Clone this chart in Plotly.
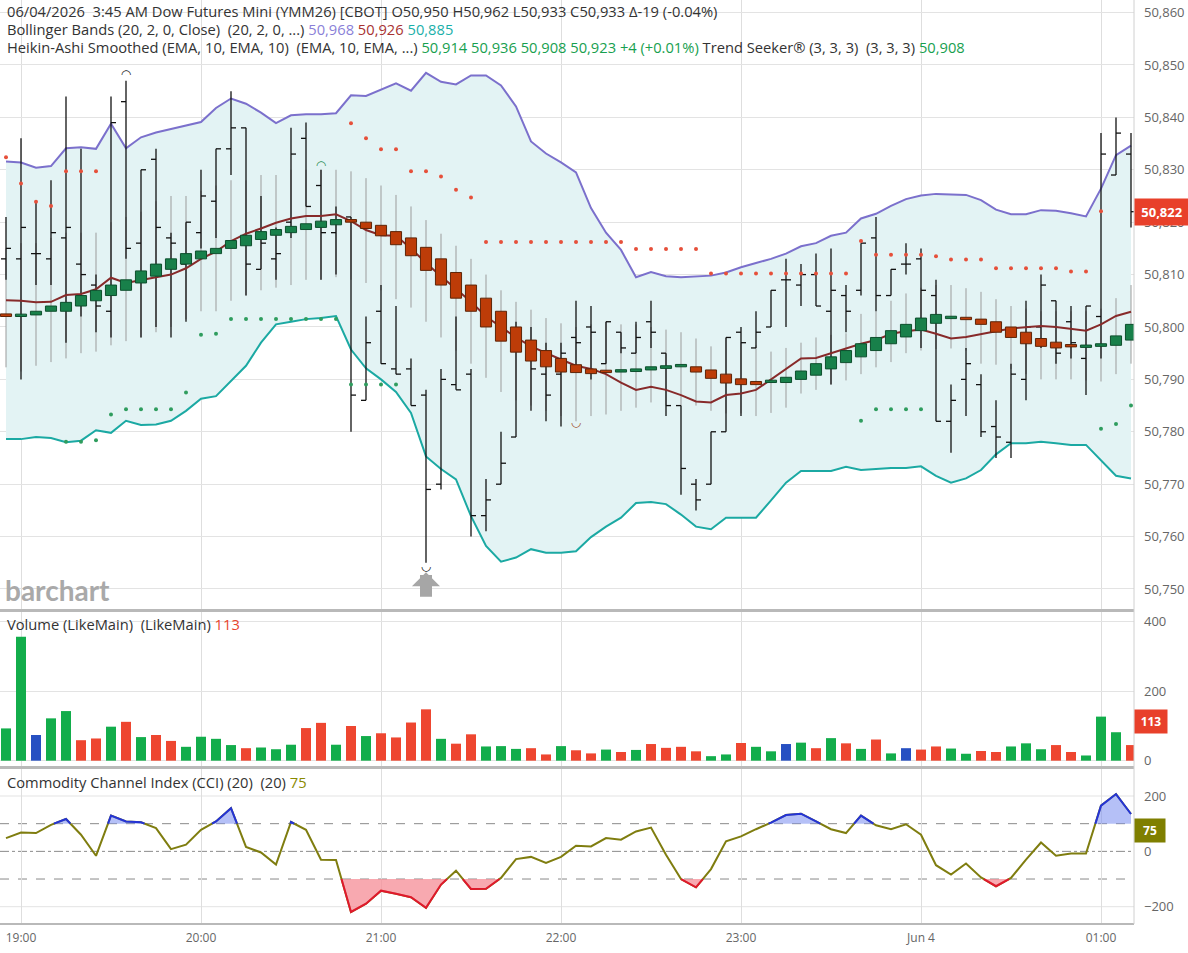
import pandas as pd
import plotly.graph_objects as go

START = "2026-06-03 18:55"
N_BARS = 76

bar_open = [50813, 50813, 50814, 50813, 50817, 50812, 50808, 50803, 50843, 50816,
            50832, 50817, 50812, 50818, 50824, 50834, 50838, 50811, 50813, 50820,
            50836, 50827, 50818, 50821, 50786, 50803, 50792, 50792, 50787, 50770,
            50789, 50791, 50764, 50770, 50779, 50795, 50791, 50791, 50798, 50800,
            50793, 50799, 50795, 50801, 50795, 50785, 50770, 50770, 50780, 50799,
            50796, 50800, 50809, 50808, 50810, 50803, 50806, 50807, 50817, 50806,
            50812, 50813, 50806, 50782, 50790, 50789, 50781, 50778, 50790, 50800,
            50805, 50801, 50794, 50802, 50829, 50833]
bar_high = [50821, 50836, 50824, 50828, 50844, 50834, 50810, 50844, 50847, 50830,
            50834, 50818, 50820, 50830, 50834, 50845, 50838, 50825, 50819, 50838,
            50839, 50830, 50823, 50821, 50802, 50808, 50804, 50794, 50788, 50792,
            50802, 50792, 50771, 50780, 50801, 50800, 50797, 50797, 50805, 50804,
            50801, 50799, 50801, 50805, 50795, 50785, 50771, 50780, 50798, 50800,
            50803, 50807, 50813, 50812, 50814, 50815, 50808, 50816, 50821, 50811,
            50816, 50815, 50809, 50789, 50796, 50791, 50786, 50793, 50805, 50810,
            50805, 50804, 50804, 50837, 50840, 50837]
bar_low = [50809, 50790, 50808, 50808, 50797, 50802, 50799, 50798, 50813, 50798,
           50800, 50798, 50801, 50815, 50817, 50829, 50806, 50811, 50809, 50817,
           50823, 50809, 50810, 50780, 50786, 50793, 50791, 50785, 50755, 50769,
           50788, 50760, 50761, 50770, 50779, 50784, 50782, 50781, 50792, 50790,
           50793, 50795, 50795, 50796, 50783, 50768, 50765, 50770, 50780, 50783,
           50796, 50800, 50800, 50804, 50804, 50789, 50799, 50806, 50803, 50806,
           50810, 50796, 50782, 50776, 50783, 50779, 50775, 50775, 50786, 50796,
           50793, 50794, 50787, 50794, 50829, 50819]
bar_close = [50815, 50819, 50814, 50818, 50819, 50810, 50804, 50839, 50815, 50830,
             50819, 50816, 50820, 50825, 50834, 50838, 50812, 50816, 50814, 50833,
             50823, 50818, 50820, 50787, 50797, 50793, 50791, 50785, 50769, 50790,
             50788, 50764, 50767, 50774, 50798, 50792, 50787, 50795, 50797, 50799,
             50801, 50796, 50798, 50799, 50785, 50773, 50767, 50780, 50798, 50797,
             50799, 50807, 50809, 50810, 50804, 50807, 50803, 50816, 50806, 50811,
             50812, 50807, 50782, 50786, 50793, 50780, 50779, 50791, 50800, 50808,
             50795, 50797, 50804, 50833, 50837, 50822]

ha_open = [50802.5, 50802.0, 50802.3, 50803.0, 50803.0, 50804.0, 50805.0, 50806.0, 50807.0, 50808.4,
           50809.7, 50811.0, 50812.0, 50813.0, 50814.0, 50815.0, 50815.5, 50816.7, 50817.5, 50818.0,
           50818.6, 50819.0, 50819.5, 50820.5, 50820.0, 50819.4, 50818.2, 50817.0, 50815.2, 50813.0,
           50810.4, 50808.0, 50805.5, 50803.0, 50800.0, 50797.5, 50795.5, 50794.0, 50792.8, 50792.0,
           50791.6, 50791.4, 50791.5, 50791.8, 50792.1, 50792.4, 50792.4, 50791.8, 50791.0, 50790.1,
           50789.6, 50789.4, 50789.4, 50790.0, 50790.8, 50792.0, 50793.2, 50794.3, 50795.5, 50796.8,
           50798.1, 50799.3, 50800.7, 50801.6, 50801.6, 50801.5, 50801.0, 50800.0, 50799.0, 50797.8,
           50797.1, 50796.3, 50796.1, 50796.3, 50796.5, 50797.5]
ha_close = [50802.0, 50802.3, 50803.0, 50804.0, 50804.7, 50806.0, 50807.0, 50808.0, 50809.0, 50810.7,
            50812.0, 50813.0, 50814.0, 50814.5, 50815.0, 50816.5, 50817.5, 50818.2, 50818.6, 50819.2,
            50819.7, 50820.2, 50820.5, 50820.0, 50818.8, 50817.4, 50815.7, 50813.6, 50810.8, 50808.0,
            50805.5, 50803.0, 50800.0, 50797.3, 50795.2, 50793.5, 50792.4, 50791.4, 50791.3, 50791.1,
            50791.3, 50791.6, 50792.0, 50792.4, 50792.6, 50792.4, 50791.4, 50790.2, 50789.3, 50789.0,
            50789.0, 50789.5, 50790.4, 50791.6, 50793.0, 50794.3, 50795.5, 50796.8, 50798.0, 50799.3,
            50800.5, 50801.7, 50802.4, 50801.8, 50801.4, 50800.5, 50799.0, 50798.0, 50796.8, 50796.3,
            50796.0, 50796.2, 50796.2, 50796.8, 50798.3, 50800.5]
ha_high = [50815, 50816, 50816, 50817, 50818, 50818, 50818, 50820, 50821, 50822,
           50824, 50825, 50825, 50826, 50827, 50828, 50828, 50829, 50829, 50830,
           50830, 50830, 50830, 50829.7, 50828.4, 50827.0, 50825.2, 50823.0, 50820.4, 50817.8,
           50815.5, 50813.0, 50810.0, 50807.0, 50804.8, 50803.3, 50801.7, 50800.7, 50800.0, 50800.5,
           50801.0, 50800.5, 50800.5, 50800.0, 50799.5, 50799.0, 50797.8, 50796.3, 50798.0, 50797.0,
           50796.5, 50795.3, 50796.0, 50797.0, 50798.0, 50798.5, 50798.8, 50802.5, 50803.0, 50805.0,
           50806.4, 50807.5, 50808.0, 50808.0, 50807.4, 50806.7, 50805.3, 50804.0, 50803.5, 50803.0,
           50803.0, 50803.0, 50803.0, 50803.5, 50805.5, 50808.0]
ha_low = [50792.3, 50791.5, 50792.6, 50793.3, 50794.0, 50795.0, 50795.3, 50796.5, 50797.3, 50798.0,
          50799.0, 50800.0, 50801.5, 50803.0, 50803.0, 50805.0, 50806.0, 50807.0, 50807.5, 50808.0,
          50809.0, 50809.0, 50809.5, 50809.0, 50808.4, 50807.0, 50805.3, 50803.7, 50801.0, 50798.0,
          50795.5, 50793.0, 50790.3, 50787.6, 50786.0, 50785.0, 50784.0, 50783.0, 50782.0, 50783.0,
          50783.3, 50784.0, 50784.6, 50785.6, 50785.0, 50785.0, 50785.0, 50784.0, 50783.5, 50783.5,
          50783.0, 50783.6, 50784.6, 50787.3, 50788.0, 50789.0, 50789.8, 50791.0, 50792.3, 50793.3,
          50795.0, 50795.5, 50795.8, 50795.9, 50795.5, 50793.0, 50792.8, 50792.0, 50791.0, 50790.0,
          50790.0, 50790.0, 50789.8, 50789.6, 50791.0, 50793.0]

bb_upper = [50831.6, 50831.4, 50830.4, 50830.7, 50834.1, 50834.3, 50834.0, 50838.8, 50834.1, 50836.2,
            50837.1, 50837.8, 50838.4, 50839.1, 50841.8, 50843.6, 50842.6, 50840.9, 50838.9, 50840.4,
            50840.6, 50840.6, 50840.8, 50844.2, 50844.1, 50845.3, 50846.5, 50845.1, 50848.5, 50846.8,
            50846.3, 50848.0, 50848.0, 50846.1, 50842.1, 50835.4, 50833.1, 50831.4, 50829.5, 50822.7,
            50818.0, 50814.7, 50809.5, 50810.5, 50809.7, 50809.5, 50809.7, 50809.8, 50810.4, 50811.4,
            50812.2, 50813.0, 50814.0, 50815.4, 50816.0, 50817.4, 50818.0, 50820.7, 50821.6, 50823.1,
            50824.4, 50825.1, 50825.4, 50825.3, 50825.2, 50824.2, 50822.4, 50821.5, 50821.5, 50822.3,
            50822.2, 50821.7, 50821.1, 50826.4, 50832.8, 50834.6]
bb_middle = [50805.1, 50805.0, 50804.7, 50804.8, 50806.1, 50806.3, 50807.2, 50809.4, 50808.4, 50809.0,
             50809.5, 50810.0, 50811.2, 50813.0, 50814.4, 50816.4, 50817.8, 50818.8, 50819.9, 50820.7,
             50821.2, 50821.2, 50821.5, 50820.2, 50818.5, 50817.5, 50817.4, 50815.0, 50812.2, 50809.7,
             50807.3, 50804.8, 50802.0, 50800.0, 50798.0, 50796.3, 50795.0, 50793.8, 50792.6, 50792.0,
             50791.0, 50789.4, 50788.0, 50788.6, 50788.0, 50787.0, 50785.8, 50785.6, 50787.0, 50787.3,
             50788.0, 50790.0, 50792.0, 50794.0, 50794.1, 50795.0, 50795.9, 50796.8, 50797.5, 50798.7,
             50799.2, 50799.5, 50798.7, 50797.8, 50798.1, 50798.7, 50799.2, 50799.7, 50799.9, 50800.2,
             50800.0, 50799.7, 50799.3, 50800.5, 50802.1, 50802.9]
bb_lower = [50778.6, 50778.6, 50779.0, 50778.8, 50778.0, 50778.3, 50780.3, 50779.8, 50782.1, 50781.3,
            50781.4, 50782.1, 50784.0, 50786.3, 50786.8, 50789.8, 50792.6, 50797.0, 50800.5, 50801.0,
            50801.5, 50801.7, 50802.1, 50795.7, 50792.1, 50790.0, 50787.6, 50783.6, 50775.3, 50772.9,
            50770.9, 50763.9, 50758.2, 50755.2, 50756.0, 50757.6, 50756.9, 50756.9, 50757.2, 50759.9,
            50761.9, 50763.6, 50766.4, 50766.6, 50766.2, 50764.2, 50761.9, 50761.4, 50763.6, 50763.6,
            50763.6, 50766.9, 50770.3, 50772.5, 50772.5, 50772.5, 50773.3, 50772.7, 50772.9, 50773.1,
            50773.1, 50773.4, 50771.6, 50770.3, 50771.1, 50772.7, 50775.7, 50777.8, 50777.8, 50778.1,
            50777.8, 50777.5, 50777.5, 50774.6, 50771.6, 50771.1]

N = None
ts_stop_above = [50832.4, 50827.4, 50823.9, 50823.1, 50829.7, 50829.7, 50829.7, N, N, N,
                 N, N, N, N, N, N, N, N, N, N,
                 N, N, N, 50838.9, 50836.0, 50833.9, 50833.9, 50829.7, 50829.7, 50828.7,
                 50826.2, 50824.7, 50816.2, 50816.2, 50816.2, 50816.2, 50816.2, 50816.2, 50816.2, 50816.2,
                 50816.2, 50816.2, 50814.9, 50814.9, 50814.9, 50814.9, 50814.9, 50810.2, 50810.2, 50810.2,
                 50810.2, 50810.2, 50810.2, 50810.2, 50810.2, 50810.2, 50810.2, 50816.4, 50813.8, 50813.8,
                 50813.8, 50813.8, 50813.5, 50812.9, 50812.9, 50812.9, 50811.2, 50811.2, 50811.2, 50811.2,
                 50811.2, 50810.6, 50810.6, 50822.1, N, N]
ts_stop_below = [N, N, N, N, 50778.1, 50778.1, 50778.4, 50783.3, 50784.3, 50784.3,
                 50784.3, 50784.3, 50787.5, 50798.5, 50798.7, 50801.5, 50801.5, 50801.5, 50801.5, 50801.5,
                 50801.5, 50801.5, 50801.5, 50789.0, 50789.0, 50789.0, 50789.0, N, N, N,
                 N, N, N, N, N, N, N, N, N, N,
                 N, N, N, N, N, N, N, N, N, N,
                 N, N, N, N, N, N, N, 50782.1, 50784.3, 50784.3,
                 50784.3, 50784.3, N, N, N, N, N, N, N, N,
                 N, N, N, 50780.6, 50781.5, 50785.0]

volume = [93, 357, 74, 122, 143, 59, 64, 98, 112, 68,
          74, 57, 40, 69, 63, 45, 36, 38, 33, 46,
          94, 109, 46, 100, 71, 79, 67, 110, 148, 63,
          49, 76, 41, 42, 34, 36, 18, 42, 30, 21,
          32, 25, 31, 48, 37, 40, 27, 13, 18, 51,
          40, 27, 48, 52, 36, 65, 50, 34, 61, 21,
          36, 32, 41, 35, 20, 28, 25, 41, 50, 33,
          45, 25, 15, 127, 82, 45]

cci = [48, 68, 66, 96, 117, 60, -16, 129, 108, 105,
       84, 8, 24, 78, 108, 156, 16, -4, -48, 106,
       78, -30, -31, -219, -189, -142, -153, -166, -204, -120,
       -70, -136, -135, -96, -28, -20, -42, -20, 20, 18,
       48, 42, 72, 86, -12, -100, -130, -64, 36, 54,
       80, 104, 131, 136, 108, 80, 66, 129, 94, 80,
       98, 60, -50, -84, -44, -94, -126, -96, -30, 32,
       -16, -8, -8, 165, 207, 135]

hour_ticks = ["2026-06-03 19:00", "2026-06-03 20:00", "2026-06-03 21:00", "2026-06-03 22:00",
              "2026-06-03 23:00", "2026-06-04 00:00", "2026-06-04 01:00"]
hour_labels = ["19:00", "20:00", "21:00", "22:00", "23:00", "Jun 4", "01:00"]
price_ticks = [50750, 50760, 50770, 50780, 50790, 50800, 50810, 50820, 50830, 50840, 50850, 50860]
last_price = 50822
last_volume = 113
last_cci = 75

times = pd.date_range(START, periods=N_BARS, freq="5min")
STEP = pd.Timedelta(minutes=5)
TICK = pd.Timedelta(seconds=100)
HALF_BODY = pd.Timedelta(seconds=111)

GREEN_V = "#12ad4b"
RED_V = "#ee4630"
BLUE_V = "#2750c2"

fig = go.Figure()


def sc(**kw):
    kw.setdefault("hoverinfo", "skip")
    kw.setdefault("showlegend", False)
    fig.add_trace(go.Scatter(**kw))


# Bollinger fill
sc(x=times, y=bb_lower, mode="lines", line=dict(width=0, color="rgba(0,0,0,0)"), xaxis="x", yaxis="y")
sc(x=times, y=bb_upper, mode="lines", line=dict(width=0, color="rgba(0,0,0,0)"),
   fill="tonexty", fillcolor="#e3f3f4", xaxis="x", yaxis="y")
sc(x=times, y=bb_upper, mode="lines", line=dict(width=2, color="#7b70cc"), xaxis="x", yaxis="y")
sc(x=times, y=bb_lower, mode="lines", line=dict(width=2, color="#1ba9a3"), xaxis="x", yaxis="y")

# Heikin-Ashi wicks (gray)
wx, wy = [], []
for t, lo, hi in zip(times, ha_low, ha_high):
    wx += [t, t, None]
    wy += [lo, hi, None]
sc(x=wx, y=wy, mode="lines", line=dict(width=1, color="#9b9b9b"), xaxis="x", yaxis="y")

# OHLC bars (black)
ox, oy = [], []
for t, o, h, l, c in zip(times, bar_open, bar_high, bar_low, bar_close):
    ox += [t, t, None, t - TICK, t, None, t, t + TICK, None]
    oy += [l, h, None, o, o, None, c, c, None]
sc(x=ox, y=oy, mode="lines", line=dict(width=1.3, color="#111111"), xaxis="x", yaxis="y")

# middle band
sc(x=times, y=bb_middle, mode="lines", line=dict(width=2, color="#872a2a"), xaxis="x", yaxis="y")

# Heikin-Ashi bodies
for up, fillc, edge in ((True, "#18804a", "#0d4f2d"), (False, "#bd3c08", "#5e2508")):
    bx, by = [], []
    for t, o, c in zip(times, ha_open, ha_close):
        if (c >= o) != up:
            continue
        lo = min(o, c)
        hi = max(max(o, c), lo + 0.45)
        bx += [t - HALF_BODY, t + HALF_BODY, t + HALF_BODY, t - HALF_BODY, t - HALF_BODY, None]
        by += [lo, lo, hi, hi, lo, None]
    sc(x=bx, y=by, mode="lines", fill="toself", fillcolor=fillc, line=dict(width=1, color=edge),
       xaxis="x", yaxis="y")

# Trend seeker dots
sc(x=times, y=ts_stop_above, mode="markers", marker=dict(size=4, color="#e6503a"), xaxis="x", yaxis="y")
sc(x=times, y=ts_stop_below, mode="markers", marker=dict(size=4, color="#2f9d5e"), xaxis="x", yaxis="y")

# high/low markers
sc(x=[times[8], times[21]], y=[bar_high[8] + 1.0, bar_high[21] + 0.8], mode="text",
   text=["◠", "◠"], textposition="middle center",
   textfont=dict(size=12, color=["#111111", "#1f8a4f"], family="DejaVu Sans"), xaxis="x", yaxis="y")
sc(x=[times[28], times[38]], y=[bar_low[28] - 0.8, ha_low[38] - 0.4], mode="text",
   text=["◡", "◡"], textposition="middle center",
   textfont=dict(size=12, color=["#111111", "#a0522d"], family="DejaVu Sans"), xaxis="x", yaxis="y")

# Volume
vcol = [GREEN_V if c > o else (RED_V if c < o else BLUE_V) for o, c in zip(bar_open, bar_close)]
fig.add_trace(go.Bar(x=times, y=volume, width=200000, marker=dict(color=vcol, line=dict(width=0)),
                     hoverinfo="skip", showlegend=False, xaxis="x2", yaxis="y2"))

# CCI
sc(x=times, y=cci, mode="lines", line=dict(width=2, color="#7f7d0f"), xaxis="x3", yaxis="y3")


def regions(vals, thr, above):
    segs, cur = [], []
    beyond = (lambda v: v > thr) if above else (lambda v: v < thr)
    for k in range(len(vals)):
        if k > 0:
            y0, y1 = vals[k - 1], vals[k]
            b0, b1 = beyond(y0), beyond(y1)
            if b0 != b1:
                f = (thr - y0) / (y1 - y0)
                cur.append((k - 1 + f, thr))
                if b0 and not b1:
                    segs.append(cur)
                    cur = []
        if beyond(vals[k]):
            cur.append((k, vals[k]))
    if cur:
        segs.append(cur)
    return segs


def to_time(xi):
    return times[0] + STEP * xi


for thr, above, lc, fc in [(100, True, "#2433d6", "rgba(120,140,240,0.55)"),
                           (-100, False, "#e0182c", "rgba(245,140,150,0.75)")]:
    segs = regions(cci, thr, above)
    px_, py_, lx, ly = [], [], [], []
    for s in segs:
        pts = list(s)
        poly = list(pts)
        if poly[-1][1] != thr:
            poly = poly + [(poly[-1][0], thr)]
        if poly[0][1] != thr:
            poly = [(poly[0][0], thr)] + poly
        px_ += [to_time(p[0]) for p in poly] + [None]
        py_ += [p[1] for p in poly] + [None]
        lx += [to_time(p[0]) for p in pts] + [None]
        ly += [p[1] for p in pts] + [None]
    sc(x=px_, y=py_, mode="lines", fill="toself", fillcolor=fc, line=dict(width=0), xaxis="x3", yaxis="y3")
    sc(x=lx, y=ly, mode="lines", line=dict(width=2, color=lc), xaxis="x3", yaxis="y3")

PB = 924.0


def pyp(px):
    return 1 - px / PB


x_range = ["2026-06-03 18:53", "2026-06-04 01:11"]
grid = "#dedede"
xfont = dict(size=12, color="#666666", family="Open Sans")
yfont = dict(size=13, color="#666666", family="Open Sans")
common_x = dict(type="date", range=x_range, tickvals=hour_ticks, ticktext=hour_labels,
                showgrid=True, gridcolor=grid, zeroline=False, showline=False, ticks="")

fig.update_layout(
    width=1188, height=953,
    margin=dict(l=0, r=54, t=0, b=29),
    paper_bgcolor="white", plot_bgcolor="white",
    barmode="overlay",
    showlegend=False,
    font=dict(family="Open Sans", color="#333333"),
    xaxis=dict(common_x, domain=[0, 1], anchor="y", showticklabels=False),
    xaxis2=dict(common_x, domain=[0, 1], anchor="y2", matches="x", showticklabels=False),
    xaxis3=dict(common_x, domain=[0, 1], anchor="y3", matches="x", showticklabels=True,
                tickfont=xfont, ticklabelstandoff=5),
    yaxis=dict(domain=[pyp(610), 1], range=[50745.99, 50862.4], side="right",
               tickvals=price_ticks, ticktext=[f"{v:,}" for v in price_ticks],
               showgrid=True, gridcolor="#e3e3e3", zeroline=False, tickfont=yfont,
               ticks="", ticklabelstandoff=9, anchor="x"),
    yaxis2=dict(domain=[pyp(767), pyp(612)], range=[-18.2, 428.5], side="right",
                tickvals=[0, 200, 400], showgrid=True, gridcolor="#e3e3e3", zeroline=False,
                tickfont=yfont, ticks="", ticklabelstandoff=9, anchor="x2"),
    yaxis3=dict(domain=[0, pyp(769)], range=[-262.5, 297.6], side="right",
                tickvals=[-200, 0, 200], showgrid=False, zeroline=False,
                tickfont=yfont, ticks="", ticklabelstandoff=9, anchor="x3"),
)

shapes = []
for yv in (200, -200):
    shapes.append(dict(type="line", xref="paper", x0=0, x1=1, yref="y3", y0=yv, y1=yv,
                       line=dict(color="#e3e3e3", width=1), layer="below"))
for yv in (100, -100):
    shapes.append(dict(type="line", xref="paper", x0=0, x1=1, yref="y3", y0=yv, y1=yv,
                       line=dict(color="#8a8a8a", width=1, dash="dash"), layer="below"))
shapes.append(dict(type="line", xref="paper", x0=0, x1=1, yref="y3", y0=0, y1=0,
                   line=dict(color="#8a8a8a", width=1, dash="dashdot"), layer="below"))
for ypx, w in ((610.5, 3), (767.5, 3), (924, 2)):
    shapes.append(dict(type="line", xref="paper", x0=0, x1=1, yref="paper", y0=pyp(ypx), y1=pyp(ypx),
                       line=dict(color="#b9b9b9", width=w), layer="above"))
shapes.append(dict(type="line", xref="paper", x0=1, x1=1, yref="paper", y0=0, y1=1,
                   line=dict(color="#d0d0d0", width=1), layer="above"))
fig.update_layout(shapes=shapes)

NB = "\u00a0"
ann = []
hdr = dict(xref="paper", yref="paper", x=0.004, xanchor="left", yanchor="middle",
           showarrow=False, font=dict(size=14.7, color="#333333", family="Open Sans"))
ann.append(dict(hdr, y=pyp(11),
                text=f"06/04/2026{NB}{NB}3:45 AM Dow Futures Mini (YMM26) [CBOT] O50,950 H50,962 L50,933 C50,933 Δ-19 (-0.04%)"))
ann.append(dict(hdr, y=pyp(29),
                text=(f"Bollinger Bands (20, 2, 0, Close){NB}{NB}(20, 2, 0, ...) "
                      "<span style='color:#8a7fd8'>50,968</span> "
                      "<span style='color:#a83232'>50,926</span> "
                      "<span style='color:#1ab0aa'>50,885</span>")))
ann.append(dict(hdr, y=pyp(47),
                text=(f"Heikin-Ashi Smoothed (EMA, 10, EMA, 10){NB}{NB}(EMA, 10, EMA, ...) "
                      "<span style='color:#17a04f'>50,914 50,936 50,908 50,923 +4 (+0.01%)</span> "
                      f"Trend Seeker® (3, 3, 3){NB}{NB}(3, 3, 3) "
                      "<span style='color:#17a04f'>50,908</span>")))
ann.append(dict(hdr, y=pyp(624),
                text=f"Volume (LikeMain){NB}{NB}(LikeMain) <span style='color:#e8452c'>113</span>"))
ann.append(dict(hdr, y=pyp(782),
                text=f"Commodity Channel Index (CCI) (20){NB}{NB}(20) <span style='color:#8a8a00'>75</span>"))
ann.append(dict(xref="paper", yref="paper", x=0.003, y=pyp(590), xanchor="left", yanchor="middle",
                showarrow=False, text="<b>barchart</b>",
                font=dict(size=28, color="#a9a9a9", family="Lato")))
# value tags
ann.append(dict(xref="paper", x=1.0, xanchor="left", yref="y", y=last_price, yanchor="middle",
                showarrow=False, text=f"<b>{last_price:,}</b>", bgcolor="#e8402a", borderpad=4,
                width=46, font=dict(size=13, color="white", family="Open Sans")))
ann.append(dict(xref="paper", x=1.0, xanchor="left", yref="y2", y=last_volume, yanchor="middle",
                showarrow=False, text=f"<b>{last_volume}</b>", bgcolor="#e8402a", borderpad=3,
                width=26, font=dict(size=12, color="white", family="Open Sans")))
ann.append(dict(xref="paper", x=1.0, xanchor="left", yref="y3", y=last_cci, yanchor="middle",
                showarrow=False, text=f"<b>{last_cci}</b>", bgcolor="#7f7f00", borderpad=3,
                width=24, font=dict(size=12, color="white", family="Open Sans")))
# gray arrow under the session low
ann.append(dict(xref="x", yref="y", x=times[28], y=50753.2, ax=0, ay=26, text="",
                showarrow=True, arrowhead=1, arrowsize=0.39, arrowwidth=12, arrowcolor="#a6a6a6"))
fig.update_layout(annotations=ann)

fig.write_html("out.html")
